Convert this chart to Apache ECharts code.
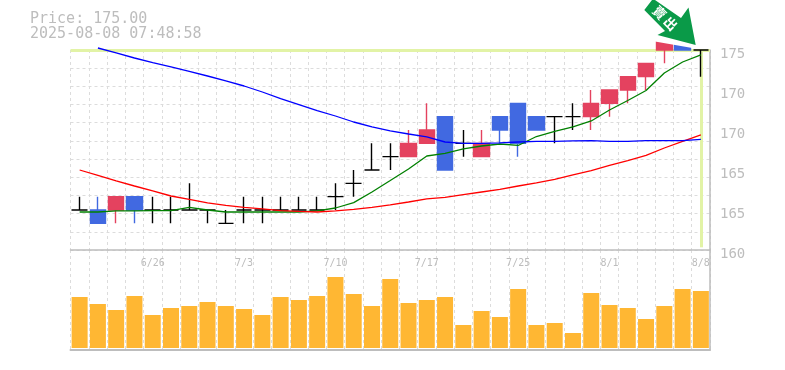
<!DOCTYPE html>
<html><head><meta charset="utf-8">
<style>html,body{margin:0;padding:0;background:#fff}#c{width:785px;height:370px}</style>
<script src="https://cdn.jsdelivr.net/npm/echarts@6/dist/echarts.min.js"></script></head>
<body><div id="c"></div>
<script>
const dates=['6/20','6/23','6/24','6/25','6/26','6/27','6/30','7/1','7/2','7/3','7/4','7/7','7/8','7/9','7/10','7/11','7/14','7/15','7/16','7/17','7/18','7/22','7/23','7/24','7/25','7/28','7/29','7/30','7/31','8/1','8/4','8/5','8/6','8/7','8/8'];
const opens=[163,163,163,164,163,163,163,163,162,163,163,163,163,163,164,165,166,167,167,168,170,168,167,170,171,170,170,170,170,171,172,173,175,176,175];
const closes=[163,162,164,163,163,163,163,163,162,163,163,163,163,163,164,165,166,167,168,169,166,168,168,169,168,169,170,170,171,172,173,174,176,175,175];
const lows=[163,162,162,162,162,162,163,162,162,162,162,163,163,163,163,164,166,166,167,168,166,167,167,168,167,169,168,169,169,170,171,172,174,175,173];
const highs=[164,164,164,164,164,164,165,163,163,164,164,164,164,164,165,166,168,168,169,171,170,169,169,170,171,170,170,171,172,172,173,174,176,176,175];
const maShort=[162.85,162.85,162.93,162.93,162.96,162.96,163.19,163.00,162.85,162.85,162.85,162.85,162.85,162.93,163.15,163.55,164.35,165.21,166.08,167.05,167.24,167.58,167.80,167.95,167.84,168.51,168.89,169.23,169.68,170.50,171.21,171.96,173.28,174.10,174.63];
const maMid=[166.00,165.59,165.18,164.80,164.43,164.05,163.79,163.53,163.34,163.19,163.08,162.96,162.89,162.85,162.93,163.04,163.19,163.38,163.60,163.83,163.94,164.16,164.35,164.54,164.80,165.03,165.29,165.63,165.96,166.34,166.71,167.09,167.65,168.14,168.63];
const maLong=[null,175.15,174.78,174.40,174.06,173.73,173.39,173.05,172.68,172.30,171.85,171.36,170.91,170.46,170.05,169.60,169.23,168.93,168.70,168.48,168.10,167.99,167.99,168.03,168.10,168.14,168.14,168.18,168.21,168.14,168.14,168.21,168.21,168.21,168.29];
const volumes=[51,44,38,52,33,40,42,46,42,39,33,51,48,52,71,54,42,69,45,48,51,23,37,31,59,23,25,15,55,43,40,29,42,59,57];
const priceTickLabels=['160','165','165','170','170','175'];
const titleLines=['Price: 175.00','2025-08-08 07:48:58'];
const arrowText='賣\u2009出';
const lastPrice=175;

const MONO='"DejaVu Sans Mono",monospace';
const GRID='#dcdcdc', AXIS='#bdbdbd', TXT='#bdbdbd', BAND='#e2f3a6';
const candles=dates.map((d,i)=>[opens[i],closes[i],lows[i],highs[i]]);
const chart=echarts.init(document.getElementById('c'),null,{renderer:'canvas'});
chart.setOption({
 animation:false,backgroundColor:'#fff',
 title:{left:25,top:7,text:titleLines.join('\n'),textStyle:{fontFamily:MONO,fontSize:15,fontWeight:'normal',color:TXT,lineHeight:15}},
 grid:[{left:70.5,top:50,width:639.5,height:200},{left:70.5,top:250,width:639.5,height:100}],
 xAxis:[
  {type:'category',gridIndex:0,data:dates,boundaryGap:true,axisTick:{show:false},
   axisLine:{onZero:false,lineStyle:{color:AXIS,width:1.5}},
   axisLabel:{margin:8,color:TXT,fontFamily:MONO,fontSize:10,interval:(i)=>i%5===4,hideOverlap:false,showMaxLabel:true},
   splitLine:{show:true,interval:0,lineStyle:{color:GRID,type:[3,3]}}},
  {type:'category',gridIndex:1,data:dates,boundaryGap:true,axisTick:{show:false},axisLabel:{show:false},
   axisLine:{onZero:false,lineStyle:{color:AXIS,width:2}},
   splitLine:{show:true,interval:0,lineStyle:{color:GRID,type:[3,3]}}}
 ],
 yAxis:[
  {type:'value',gridIndex:0,position:'right',min:160,max:175,interval:3,
   axisLine:{show:true,lineStyle:{color:AXIS,width:1.5}},axisTick:{show:false},splitLine:{show:false},
   axisLabel:{margin:10,color:TXT,fontFamily:MONO,fontSize:14,verticalAlign:'top',lineHeight:8,
    formatter:(v)=>priceTickLabels[Math.round((v-160)/3)]}},
  {type:'value',gridIndex:0,position:'left',min:0,max:11,interval:1,
   axisLine:{show:false},axisTick:{show:false},axisLabel:{show:false},
   splitLine:{show:true,lineStyle:{color:GRID,type:[3,3]}}},
  {type:'value',gridIndex:1,position:'right',min:-2,max:98,
   axisLine:{show:true,lineStyle:{color:AXIS,width:1.5}},axisTick:{show:false},axisLabel:{show:false},splitLine:{show:false}}
 ],
 series:[
  {type:'line',xAxisIndex:0,yAxisIndex:0,data:[],z:1,silent:true,
   markLine:{symbol:'none',silent:true,label:{show:false},z:1,
    lineStyle:{color:BAND,width:3,type:'solid'},
    data:[{yAxis:lastPrice},[{xAxis:dates[34],yAxis:160.2},{xAxis:dates[34],yAxis:lastPrice}]]}},
  {type:'candlestick',name:'Price',xAxisIndex:0,yAxisIndex:0,data:candles,barWidth:16,clip:false,z:3,
   itemStyle:{color:'#e4425f',color0:'#4169e1',borderColor:'#e4425f',borderColor0:'#4169e1',borderColorDoji:'#000',borderWidth:1.4}},
  {type:'line',name:'MA5',xAxisIndex:0,yAxisIndex:0,data:maShort,showSymbol:false,clip:false,z:4,lineStyle:{color:'#008000',width:1.3}},
  {type:'line',name:'MA25',xAxisIndex:0,yAxisIndex:0,data:maMid,showSymbol:false,clip:false,z:4,lineStyle:{color:'#ff0000',width:1.3}},
  {type:'line',name:'MA75',xAxisIndex:0,yAxisIndex:0,data:maLong,showSymbol:false,clip:false,z:4,lineStyle:{color:'#0000ff',width:1.3}},
  {type:'bar',name:'Volume',xAxisIndex:1,yAxisIndex:2,data:volumes,barWidth:16,itemStyle:{color:'#ffb733'}}
 ],
 graphic:[
  {type:'polygon',z:10,shape:{points:[[650,28],[655,41.5],[698,49],[700,43],[690,30]]},style:{fill:'#fff'},silent:true},
  {type:'polygon',z:11,shape:{points:[[652,0],[655,0],[681,18],[688.5,7.5],[695.7,45],[657.5,35],[665,31],[644.3,10]]},style:{fill:'#0a9a48'},silent:true},
  {type:'text',z:12,x:665,y:18,rotation:-Math.PI/4,style:{text:arrowText,fill:'#fff',font:'bold 13px "Noto Sans CJK TC"',align:'center',verticalAlign:'middle'},silent:true}
 ]
});
</script></body></html>
